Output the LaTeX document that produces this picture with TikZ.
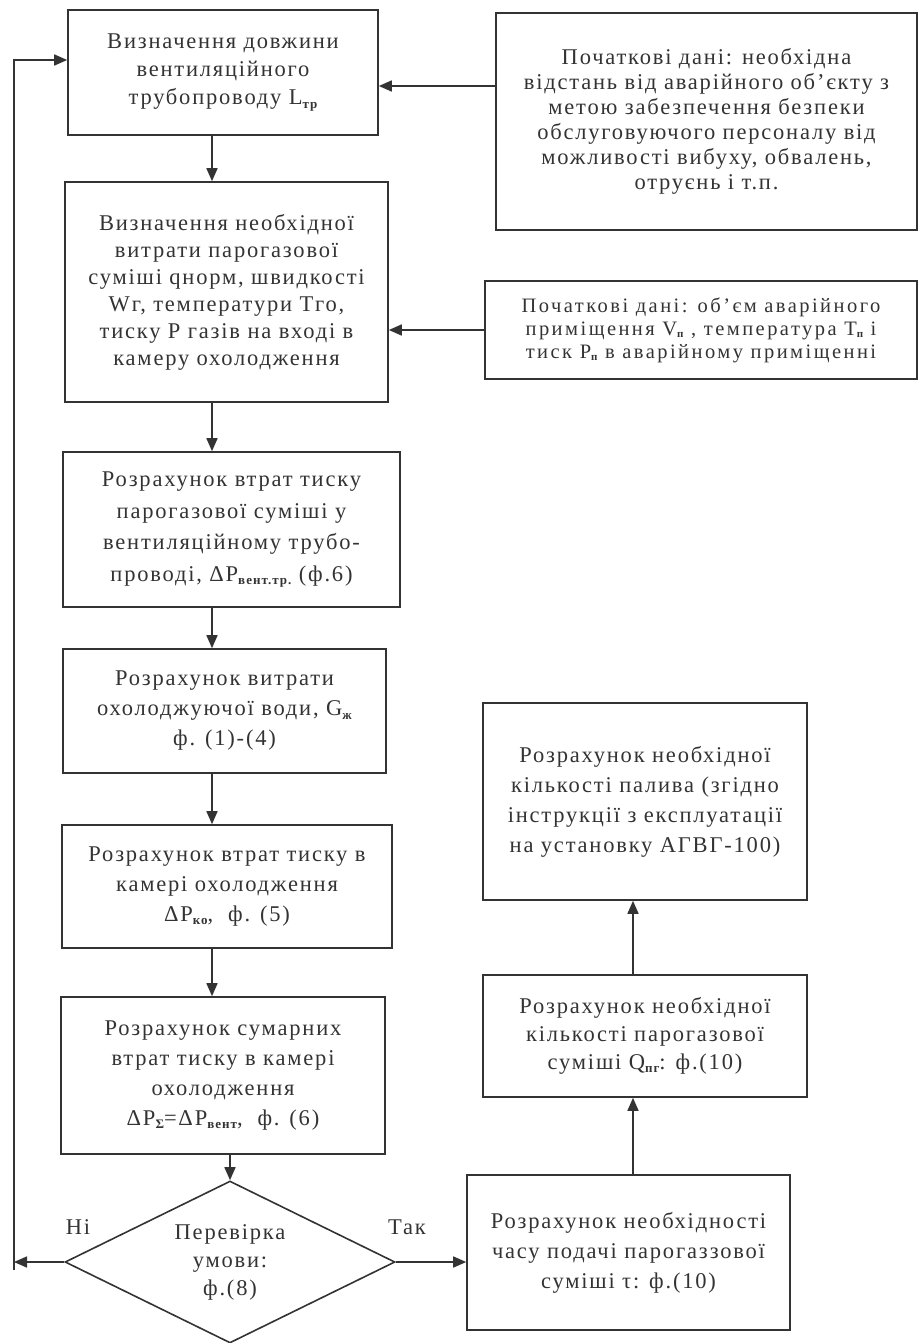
\documentclass[tikz,border=0pt]{standalone}
\usepackage{fontspec}
\setmainfont[LetterSpace=8]{Liberation Serif}
\usetikzlibrary{arrows.meta,shapes.geometric}
\newcommand\lsub[1]{\raisebox{-0.3ex}{\fontsize{13}{13}\selectfont\bfseries #1}}
\newcommand\ssub[1]{\raisebox{-0.2ex}{\fontsize{11}{11}\selectfont\bfseries #1}}
\definecolor{ink}{gray}{0.2}
\begin{document}
\begin{tikzpicture}[x=1pt,y=-1pt,
  font=\fontsize{22.5}{30}\selectfont, color=ink,
  lsk/.style={font=\fontsize{22.5}{#1}\selectfont},
  box/.style={draw=ink, line width=1.6pt, inner sep=0pt, align=center, text=ink},
  arr/.style={draw=ink, line width=1.6pt, -{Triangle[length=13pt,width=11pt]}}]
\useasboundingbox (0,0) rectangle (919,1343);

\node[box, lsk=28, minimum width=310pt, minimum height=125pt] (b1) at (223,72.5)
  {Визначення довжини\\вентиляційного\\трубопроводу L\lsub{тр}};
\node[box, lsk=25, minimum width=421pt, minimum height=217pt] (d1) at (706.5,121.5)
  {Початкові дані: необхідна\\відстань від аварійного об’єкту з\\метою забезпечення безпеки\\обслуговуючого персоналу від\\можливості вибуху, обвалень,\\отруєнь і т.п.};
\node[box, lsk=27, minimum width=323pt, minimum height=220pt] (b2) at (226.5,292)
  {Визначення необхідної\\витрати парогазової\\суміші qнорм, швидкості\\Wг, температури Тго,\\тиску Р газів на вході в\\камеру охолодження};
\node[box, font={\fontsize{20.5}{23}\selectfont\addfontfeature{LetterSpace=12}}, minimum width=432pt, minimum height=98pt] (d2) at (701,330)
  {Початкові дані: об’єм аварійного\\приміщення V\ssub{п} , температура T\ssub{п} і\\тиск P\ssub{п} в аварійному приміщенні};
\node[box, lsk=31.5, minimum width=337pt, minimum height=155pt] (b3) at (231.5,529.5)
  {Розрахунок втрат тиску\\парогазової суміші у\\вентиляційному трубо-\\проводі, ΔP\lsub{вент.тр.} (ф.6)};
\node[box, minimum width=323pt, minimum height=124pt] (b4) at (224.5,711)
  {Розрахунок витрати\\охолоджуючої води, G\lsub{ж}\\ф. (1)-(4)};
\node[box, minimum width=330pt, minimum height=123pt] (b5) at (227,886.5)
  {Розрахунок втрат тиску в\\камері охолодження\\ΔP\lsub{ко}, \ ф. (5)};
\node[box, minimum width=324pt, minimum height=157pt] (b6) at (223,1075.5)
  {Розрахунок сумарних\\втрат тиску в камері\\охолодження\\ΔP\lsub{Σ}=ΔP\lsub{вент}, \ ф. (6)};
\node[box, lsk=28, diamond, aspect=2, minimum width=330pt, minimum height=162pt] (dia) at (230,1262)
  {Перевірка\\умови:\\ф.(8)};
\node[box, minimum width=323pt, minimum height=155pt] (b7) at (628.5,1252.5)
  {Розрахунок необхідності\\часу подачі парогаззової\\суміші τ: ф.(10)};
\node[box, lsk=28, minimum width=324pt, minimum height=122pt] (b8) at (645,1036)
  {Розрахунок необхідної\\кількості парогазової\\суміші Q\lsub{пг}: ф.(10)};
\node[box, minimum width=324pt, minimum height=197pt] (b9) at (645,801.5)
  {Розрахунок необхідної\\кількості палива (згідно\\інструкції з експлуатації\\на установку АГВГ-100)};

\node (ni) at (78,1227) {Ні};
\node (tak) at (407,1227) {Так};

\coordinate (ax) at (212,0);
\coordinate (ux) at (633,0);
\coordinate (a1) at ([yshift=-13.5pt]b1.east);
\coordinate (a3) at ([yshift=12.5pt]b1.west);
\coordinate (L) at (14,1262);

\draw[arr] (d1.west |- a1) -- (a1);
\draw[arr] (d2.west) -- (d2.west -| b2.east);
\draw[arr] (ax |- b1.south) -- (ax |- b2.north);
\draw[arr] (ax |- b2.south) -- (ax |- b3.north);
\draw[arr] (ax |- b3.south) -- (ax |- b4.north);
\draw[arr] (ax |- b4.south) -- (ax |- b5.north);
\draw[arr] (ax |- b5.south) -- (ax |- b6.north);
\draw[arr] (dia.north |- b6.south) -- (dia.north);
\draw[arr] (dia.west) -- (L);
\draw[arr] ([yshift=-8pt]L) -- (L |- a3) -- (a3);
\draw[arr] (dia.east) -- (dia.east -| b7.west);
\draw[arr] (ux |- b7.north) -- (ux |- b8.south);
\draw[arr] (ux |- b8.north) -- (ux |- b9.south);
\end{tikzpicture}
\end{document}
